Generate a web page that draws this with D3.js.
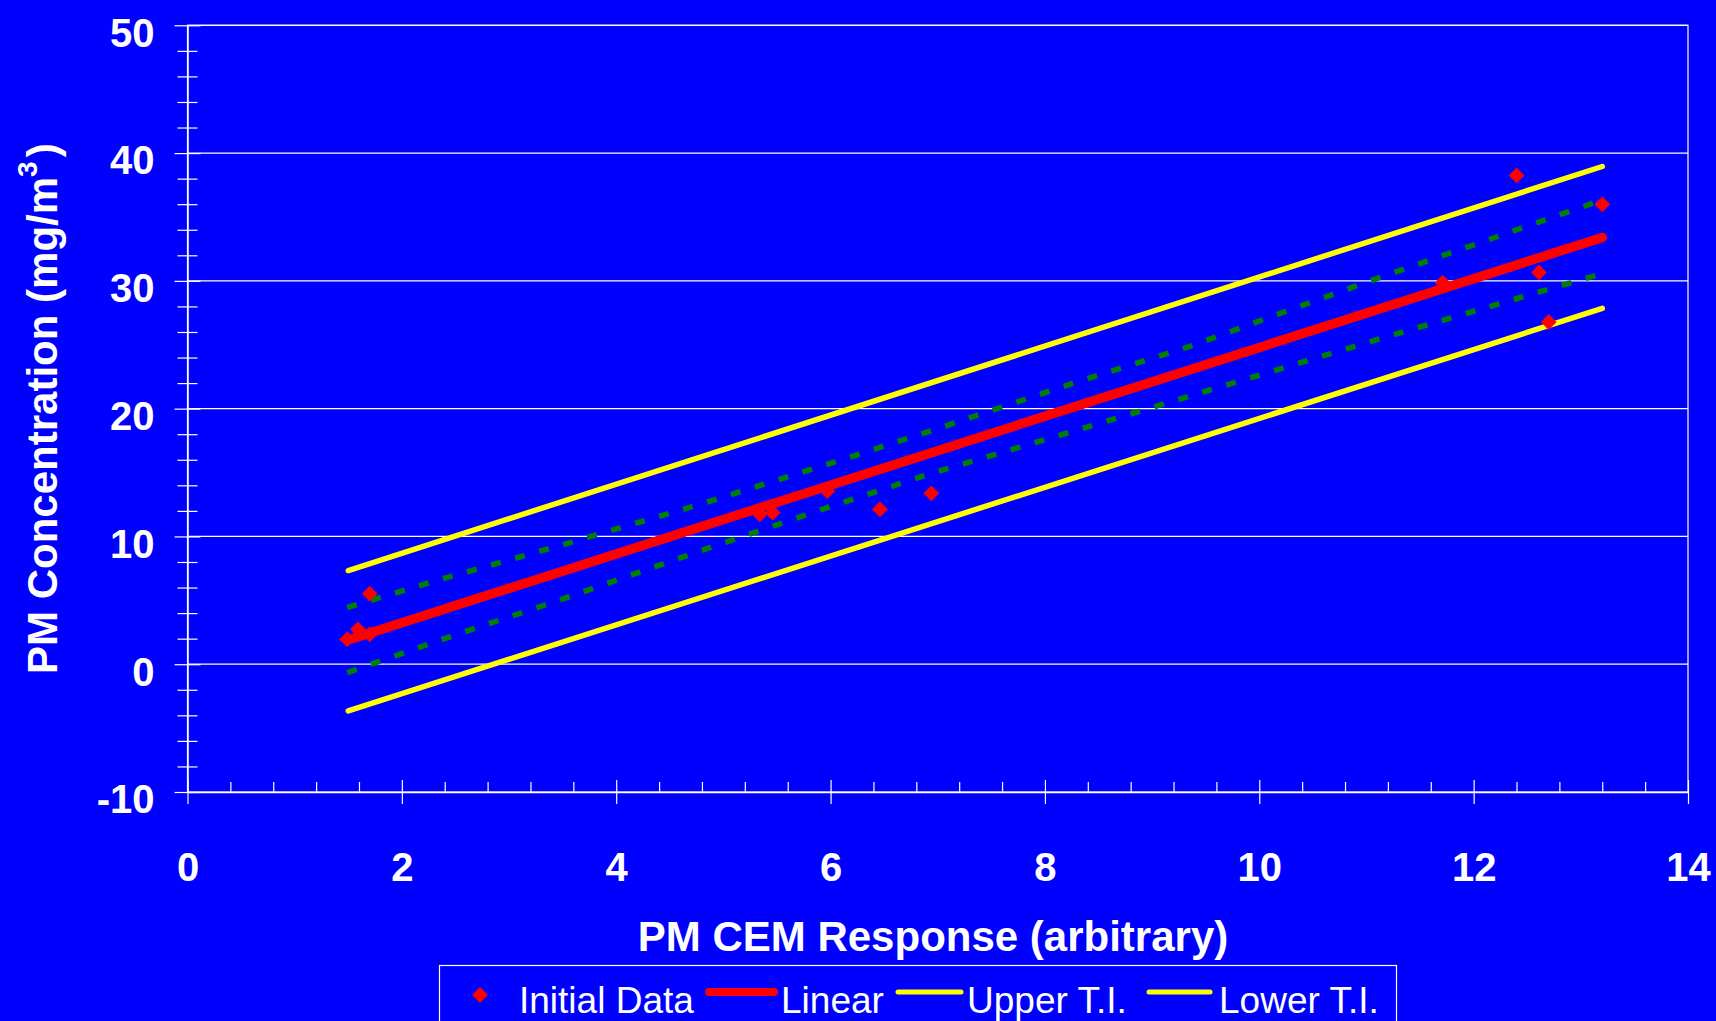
<!DOCTYPE html>
<html lang="en">
<head>
    <meta charset="UTF-8">
    <title>PM CEM Calibration</title>
    <script src="https://d3js.org/d3.v7.min.js"></script>
    <style>
        html, body {
            margin: 0;
            padding: 0;
            background: #0000ff;
            overflow: hidden;
        }
        svg text {
            font-family: Arial, "Liberation Sans", sans-serif;
            fill: #ffffff;
        }
    </style>
</head>
<body>
    <div class="chart"></div>

    <script>
        // measured data points
        const cemResponse = [1.49, 1.59, 1.70, 1.70, 5.34, 5.46, 5.97, 6.46, 6.94, 11.71, 12.40, 12.61, 12.70, 13.20];
        const pmConc = [1.95, 2.73, 2.34, 5.52, 11.73, 11.86, 13.55, 12.12, 13.37, 29.86, 38.25, 30.66, 26.78, 35.99];

        // fitted line and tolerance intervals (end points)
        const fitX = [1.5, 13.2];
        const linearY = [1.9, 33.4];
        const upperTIY = [7.33, 38.95];
        const lowerTIY = [-3.65, 27.85];

        // confidence bands (green dotted)
        const upperCIX = [1.49, 2.36, 3.46, 4.78, 6.03, 6.93, 8.25, 9.36, 10.13, 11.0, 12.06, 13.17];
        const upperCIY = [4.43, 6.64, 9.25, 12.51, 15.8, 18.25, 21.95, 24.9, 27.25, 29.9, 32.99, 36.25];
        const lowerCIX = [1.49, 2.36, 3.51, 4.78, 5.97, 6.93, 8.25, 9.17, 10.54, 11.13, 12.06, 13.17];
        const lowerCIY = [-0.66, 1.90, 5.13, 8.86, 12.25, 14.91, 18.2, 20.52, 23.99, 25.48, 27.77, 30.5];

        const xTicks = [0, 2, 4, 6, 8, 10, 12, 14];
        const yTicks = [-10, 0, 10, 20, 30, 40, 50];
        const legendLabels = ['Initial Data', 'Linear', 'Upper T.I.', 'Lower T.I.'];

        const svgWidth = 1716;
        const svgHeight = 1021;
        const plotLeft = 187.5, plotRight = 1688, plotTop = 25.3, plotBottom = 792;

        const svg = d3.select('.chart')
            .append('svg')
            .attr('width', svgWidth)
            .attr('height', svgHeight);

        svg.append('rect')
            .attr('width', svgWidth)
            .attr('height', svgHeight)
            .attr('fill', '#0000ff');

        const xScale = d3.scaleLinear().domain([0, 14]).range([plotLeft, plotRight]);
        const yScale = d3.scaleLinear().domain([-10, 50]).range([plotBottom, plotTop]);

        // gridlines
        svg.append('g')
            .selectAll('line')
            .data(yTicks.filter(d => d > -10))
            .enter()
            .append('line')
            .attr('x1', plotLeft)
            .attr('x2', plotRight)
            .attr('y1', d => yScale(d))
            .attr('y2', d => yScale(d))
            .attr('stroke', '#ffffff')
            .attr('stroke-width', 1.2);

        // plot area border
        svg.append('rect')
            .attr('x', plotLeft)
            .attr('y', plotTop)
            .attr('width', plotRight - plotLeft)
            .attr('height', plotBottom - plotTop)
            .attr('fill', 'none')
            .attr('stroke', '#ffffff')
            .attr('stroke-width', 1.2);

        // minor ticks
        const xMinor = d3.range(0, 14.01, 0.4).filter(v => Math.abs(v / 2 - Math.round(v / 2)) > 0.01);
        const yMinor = d3.range(-10, 50.01, 2).filter(v => v % 10 !== 0);

        const xMinorAxis = svg.append('g')
            .attr('transform', `translate(0,${plotBottom})`)
            .call(d3.axisBottom(xScale).tickValues(xMinor).tickSize(10).tickFormat(''));
        xMinorAxis.select('.domain').remove();
        xMinorAxis.selectAll('line').attr('y2', -10).attr('stroke', '#ffffff').attr('stroke-width', 1.2);

        const yMinorAxis = svg.append('g')
            .attr('transform', `translate(${plotLeft},0)`)
            .call(d3.axisLeft(yScale).tickValues(yMinor).tickSize(10).tickFormat(''));
        yMinorAxis.select('.domain').remove();
        yMinorAxis.selectAll('line').attr('x1', 10).attr('stroke', '#ffffff').attr('stroke-width', 1.2);

        // major axes
        const xAxis = svg.append('g')
            .attr('transform', `translate(0,${plotBottom})`)
            .call(d3.axisBottom(xScale).tickValues(xTicks).tickSize(12).tickSizeOuter(0).tickPadding(0)
                .tickFormat(d => String(d)));
        xAxis.select('.domain').attr('stroke', '#ffffff').attr('stroke-width', 1.5);
        xAxis.selectAll('line').attr('y1', -12).attr('stroke', '#ffffff').attr('stroke-width', 1.2);
        xAxis.selectAll('text')
            .attr('y', 88.5)
            .attr('dy', 0)
            .style('font-size', '40px')
            .style('font-weight', 'bold')
            .attr('fill', '#ffffff');

        const yAxis = svg.append('g')
            .attr('transform', `translate(${plotLeft},0)`)
            .call(d3.axisLeft(yScale).tickValues(yTicks).tickSize(13).tickSizeOuter(0).tickPadding(20)
                .tickFormat(d => String(d)));
        yAxis.select('.domain').attr('stroke', '#ffffff').attr('stroke-width', 1.5);
        yAxis.selectAll('line').attr('x1', 13).attr('stroke', '#ffffff').attr('stroke-width', 1.2);
        yAxis.selectAll('text')
            .attr('dy', '0.52em')
            .style('font-size', '40px')
            .style('font-weight', 'bold')
            .attr('fill', '#ffffff');

        const line = d3.line()
            .x(d => xScale(d[0]))
            .y(d => yScale(d[1]));

        // green confidence bands
        [[upperCIX, upperCIY], [lowerCIX, lowerCIY]].forEach(([xs, ys]) => {
            svg.append('path')
                .datum(xs.map((x, i) => [x, ys[i]]))
                .attr('d', line)
                .attr('fill', 'none')
                .attr('stroke', '#008000')
                .attr('stroke-width', 5.5)
                .attr('stroke-dasharray', '10,15');
        });

        // tolerance intervals
        [upperTIY, lowerTIY].forEach(ys => {
            svg.append('path')
                .datum(fitX.map((x, i) => [x, ys[i]]))
                .attr('d', line)
                .attr('fill', 'none')
                .attr('stroke', '#ffff00')
                .attr('stroke-width', 5.5)
                .attr('stroke-linecap', 'round');
        });

        // linear fit
        svg.append('path')
            .datum(fitX.map((x, i) => [x, linearY[i]]))
            .attr('d', line)
            .attr('fill', 'none')
            .attr('stroke', '#ff0000')
            .attr('stroke-width', 9.5)
            .attr('stroke-linecap', 'round');

        // data points
        const diamond = d3.symbol().type(d3.symbolSquare).size(125);
        svg.append('g')
            .selectAll('path')
            .data(cemResponse.map((x, i) => [x, pmConc[i]]))
            .enter()
            .append('path')
            .attr('d', diamond)
            .attr('transform', d => `translate(${xScale(d[0])},${yScale(d[1])}) rotate(45)`)
            .attr('fill', '#ff0000');

        // axis titles
        svg.append('text')
            .attr('x', 933)
            .attr('y', 951)
            .attr('text-anchor', 'middle')
            .style('font-size', '42px')
            .style('font-weight', 'bold')
            .text('PM CEM Response (arbitrary)');

        const yTitle = svg.append('text')
            .attr('transform', `translate(57,${(plotTop + plotBottom) / 2}) rotate(-90)`)
            .attr('text-anchor', 'middle')
            .style('font-size', '42px')
            .style('font-weight', 'bold');
        yTitle.append('tspan').text('PM Concentration (mg/m');
        yTitle.append('tspan').attr('dy', -20).style('font-size', '28px').text('3');
        yTitle.append('tspan').attr('dy', 20).attr('dx', 4).text(')');

        // legend
        const legend = svg.append('g');
        legend.append('rect')
            .attr('x', 439.5)
            .attr('y', 965.5)
            .attr('width', 957)
            .attr('height', 100)
            .attr('fill', 'none')
            .attr('stroke', '#ffffff')
            .attr('stroke-width', 1.2);

        const legendY = 992;
        legend.append('path')
            .attr('d', diamond)
            .attr('transform', `translate(480,${legendY + 3}) rotate(45)`)
            .attr('fill', '#ff0000');

        const swatches = [
            { x1: 709, x2: 774, color: '#ff0000', w: 8 },
            { x1: 898, x2: 961, color: '#ffff00', w: 5 },
            { x1: 1149, x2: 1210, color: '#ffff00', w: 5 }
        ];
        swatches.forEach(s => {
            legend.append('line')
                .attr('x1', s.x1)
                .attr('x2', s.x2)
                .attr('y1', legendY)
                .attr('y2', legendY)
                .attr('stroke', s.color)
                .attr('stroke-width', s.w)
                .attr('stroke-linecap', 'round');
        });

        const labelX = [519, 781, 967, 1219];
        legend.selectAll('.legend-label')
            .data(legendLabels)
            .enter()
            .append('text')
            .attr('class', 'legend-label')
            .attr('x', (d, i) => labelX[i])
            .attr('y', 1012.5)
            .style('font-size', '37px')
            .text(d => d);
    </script>
</body>
</html>
